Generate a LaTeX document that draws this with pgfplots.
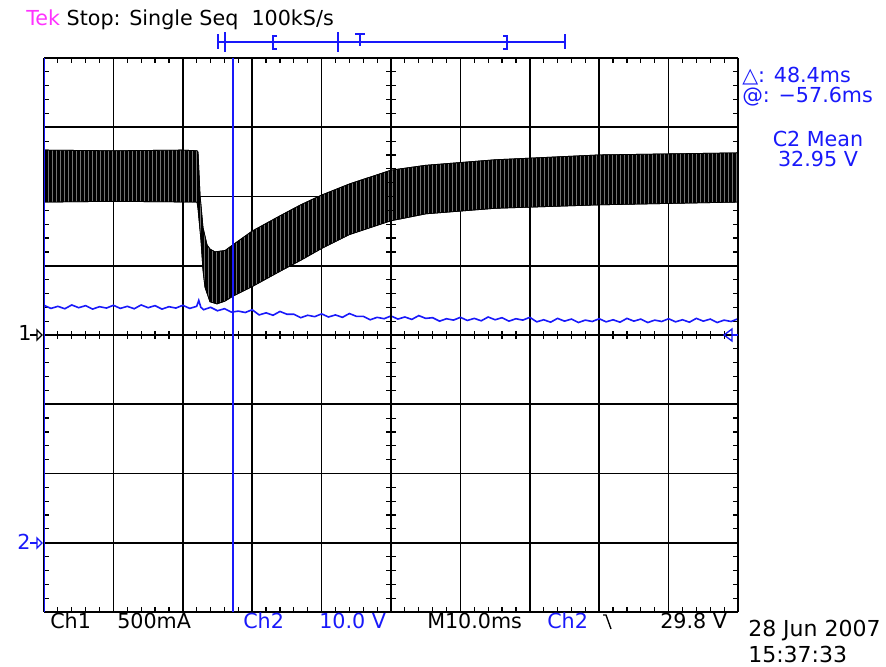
\documentclass[border=0pt]{standalone}
\usepackage{fontspec}
\setmainfont{DejaVu Sans}
\usepackage{pgfplots}
\pgfplotsset{compat=1.18}
\usetikzlibrary{patterns}
\definecolor{tekblue}{RGB}{25,25,250}
\definecolor{tekpink}{RGB}{255,50,255}
\begin{document}
\begin{tikzpicture}[font=\fontsize{15.5}{18}\selectfont]
\useasboundingbox (0pt,0pt) rectangle (664.5pt,500.25pt);
\begin{axis}[
    at={(33pt,41.25pt)}, anchor=south west,
    width=520.5pt, height=415.5pt, scale only axis,
    xmin=0, xmax=10, ymin=-4, ymax=4,
    xtick={0,...,10}, ytick={-4,...,4},
    xticklabels={}, yticklabels={},
    minor x tick num=4, minor y tick num=4,
    major tick length=0pt, minor tick length=3.75pt, tick align=inside,
    tick style={black, line width=0.9pt},
    grid=major, major grid style={black, line width=1.3pt},
    axis line style={draw=none},
]
% Ch2 (blue, noisy)
\addplot[tekblue, line width=1.2pt] coordinates {
(0.0,0.429) (0.1,0.384) (0.2,0.414) (0.3,0.379) (0.4,0.434) (0.5,0.394)
(0.6,0.424) (0.7,0.374) (0.8,0.409) (0.9,0.389) (1.0,0.429) (1.1,0.384)
(1.2,0.414) (1.3,0.379) (1.4,0.434) (1.5,0.394) (1.6,0.424) (1.7,0.374)
(1.8,0.409) (1.9,0.389) (2.0,0.429) (2.1,0.384) (2.2,0.414) (2.23,0.50)
(2.26,0.40) (2.3,0.365) (2.4,0.40) (2.5,0.35) (2.6,0.38) (2.7,0.33)
(2.8,0.345) (2.9,0.325) (3.0,0.365) (3.1,0.29) (3.2,0.32) (3.3,0.285)
(3.4,0.34) (3.5,0.30) (3.6,0.30) (3.7,0.25) (3.8,0.285) (3.9,0.265)
(4.0,0.305) (4.1,0.26) (4.2,0.29) (4.3,0.255) (4.4,0.31) (4.5,0.27)
(4.6,0.27) (4.7,0.22) (4.8,0.255) (4.9,0.235) (5.0,0.275) (5.1,0.23)
(5.2,0.26) (5.3,0.225) (5.4,0.28) (5.5,0.24) (5.6,0.25) (5.7,0.20)
(5.8,0.235) (5.9,0.215) (6.0,0.255) (6.1,0.21) (6.2,0.24) (6.3,0.205)
(6.4,0.26) (6.5,0.22) (6.6,0.25) (6.7,0.20) (6.8,0.235) (6.9,0.215)
(7.0,0.255) (7.1,0.19) (7.2,0.22) (7.3,0.185) (7.4,0.24) (7.5,0.20)
(7.6,0.23) (7.7,0.18) (7.8,0.215) (7.9,0.195) (8.0,0.235) (8.1,0.19)
(8.2,0.22) (8.3,0.185) (8.4,0.24) (8.5,0.20) (8.6,0.23) (8.7,0.18)
(8.8,0.215) (8.9,0.195) (9.0,0.235) (9.1,0.19) (9.2,0.22) (9.3,0.185)
(9.4,0.24) (9.5,0.20) (9.6,0.23) (9.7,0.18) (9.8,0.215) (9.9,0.195)
(10.0,0.235)
};
% Ch1 (black band, upper envelope then lower envelope back)
\addplot[fill=black, draw=black, line width=0.6pt,
    postaction={pattern=vertical lines, pattern color=black!55}] coordinates {
(0,2.67) (1.0,2.66) (2.0,2.67) (2.205,2.66) (2.219,2.64) (2.248,2.02)
(2.291,1.55) (2.349,1.30) (2.392,1.24) (2.464,1.20) (2.61,1.22)
(2.72,1.30) (3.0,1.50) (3.4,1.72) (3.7,1.88) (4.0,2.02) (4.4,2.18)
(5.0,2.38) (5.5,2.45) (6.5,2.53) (8.0,2.60) (10,2.63)
(10,1.92) (8.0,1.88) (6.5,1.83) (5.5,1.75) (5.0,1.65) (4.4,1.45)
(4.0,1.25) (3.7,1.08) (3.4,0.92) (3.0,0.70) (2.72,0.56)
(2.608,0.49) (2.493,0.45) (2.392,0.48) (2.32,0.69)
(2.291,0.94) (2.262,1.37) (2.219,1.83) (2.205,1.92) (1.0,1.93) (0,1.92)
} -- cycle;
% centre cross
\draw[black, line width=1.6pt] (axis cs:0,0) -- (axis cs:10,0);
\draw[black, line width=1.6pt] (axis cs:5,-4) -- (axis cs:5,4);
\pgfplotsinvokeforeach{0.2,0.4,...,9.9}{
  \draw[black, line width=0.9pt] ([yshift=-3pt]axis cs:#1,0) -- ([yshift=3pt]axis cs:#1,0);
}
\pgfplotsinvokeforeach{-3.8,-3.6,...,3.9}{
  \draw[black, line width=0.9pt] ([xshift=-3.75pt]axis cs:5,#1) -- ([xshift=3.75pt]axis cs:5,#1);
}
% frame
\draw[black, line width=1.4pt] (rel axis cs:0,1) -- (rel axis cs:1,1) -- (rel axis cs:1,0) -- (rel axis cs:0,0);
\draw[tekblue, line width=1.5pt] (rel axis cs:0,0) -- (rel axis cs:0,1);
% cursor
\draw[tekblue, line width=1pt] (axis cs:2.723,-4) -- (axis cs:2.723,4);
\end{axis}

\begin{scope}[x=0.75pt,y=0.75pt]
% header
\node[anchor=base west, inner sep=0] at (26,641) {\textcolor{tekpink}{Tek} Stop: Single Seq\ \ 100kS/s};
% record bar
\begin{scope}[tekblue, line width=1pt]
\draw (218,625) -- (565,625);
\draw (218,618) -- (218,633);
\draw (565,618) -- (565,633);
\draw (225,615) -- (225,635);
\draw (338,615) -- (338,635);
\draw (277,631) -- (273,631) -- (273,618) -- (277,618);
\draw (503,631) -- (507,631) -- (507,618) -- (503,618);
\draw (355,633) -- (365,633);
\draw (360,633) -- (360,621);
\end{scope}
% right readouts
\node[anchor=base west, inner sep=0, text=tekblue] at (742,584) {△: 48.4ms};
\node[anchor=base west, inner sep=0, text=tekblue] at (742,564) {@: −57.6ms};
\node[anchor=base, inner sep=0, text=tekblue] at (818,520) {C2 Mean};
\node[anchor=base, inner sep=0, text=tekblue] at (818,500) {32.95 V};
% channel markers
\node[anchor=base west, inner sep=0] at (18,326) {1};
\draw[black, line width=1pt] (30,332) -- (37,332);
\draw[black, line width=1pt] (37,327) -- (42,332) -- (37,337) -- cycle;
\node[anchor=base west, inner sep=0, text=tekblue] at (17,117) {2};
\draw[tekblue, line width=1pt] (30,124) -- (37,124);
\draw[tekblue, line width=1pt] (37,119) -- (42,124) -- (37,129) -- cycle;
\draw[tekblue, line width=1pt] (732,338) -- (724,332) -- (732,326) -- cycle;
\draw[tekblue, line width=1pt] (732,332) -- (738,332);
% bottom readouts
\node[anchor=base west, inner sep=0] at (50,38) {Ch1};
\node[anchor=base west, inner sep=0] at (117,38) {500mA};
\node[anchor=base west, inner sep=0, text=tekblue] at (243,38) {Ch2};
\node[anchor=base west, inner sep=0, text=tekblue] at (319,38) {10.0 V};
\node[anchor=base west, inner sep=0] at (427,38) {M10.0ms};
\node[anchor=base west, inner sep=0, text=tekblue] at (547,38) {Ch2};
\draw[black, line width=1pt] (603,52) -- (606,52) -- (611,38);
\node[anchor=base west, inner sep=0] at (660,38) {29.8 V};
\node[anchor=base west, inner sep=0, font=\fontsize{16.5}{19}\selectfont] at (748,30) {28 Jun 2007};
\node[anchor=base west, inner sep=0, font=\fontsize{16.5}{19}\selectfont] at (748,4) {15:37:33};
\end{scope}
\end{tikzpicture}
\end{document}
